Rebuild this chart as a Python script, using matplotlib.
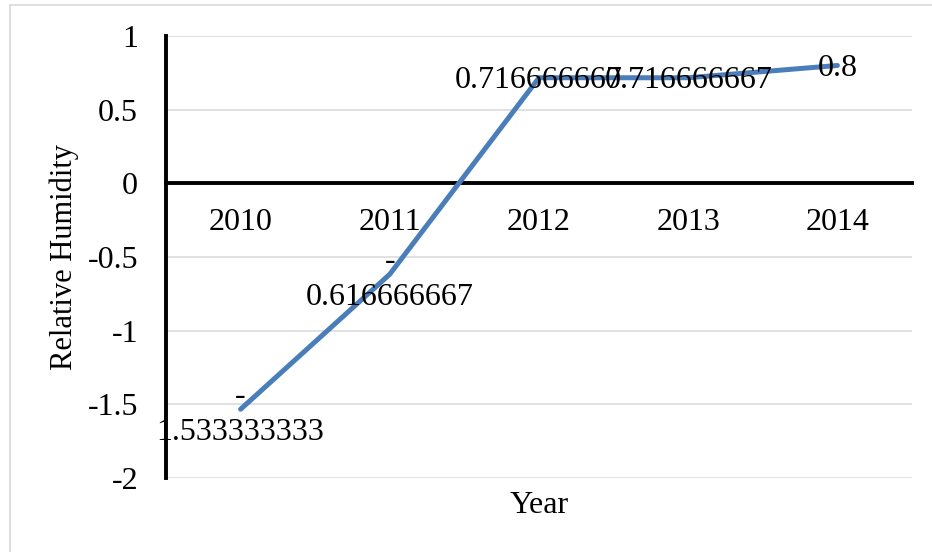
import matplotlib
matplotlib.use("Agg")
import matplotlib.pyplot as plt
from matplotlib.patches import Rectangle

years = ["2010", "2011", "2012", "2013", "2014"]
humidity = [-1.533333333, -0.616666667, 0.716666667, 0.716666667, 0.8]
point_labels = ["-\n1.533333333", "-\n0.616666667", "0.716666667", "0.716666667", "0.8"]
yticks = [-2, -1.5, -1, -0.5, 0, 0.5, 1]

plt.rcParams["font.family"] = ["Liberation Serif", "DejaVu Serif"]
fs = 23

fig = plt.figure(figsize=(9.32, 5.52), dpi=100)
# chart area frame
fig.patches.append(Rectangle((10 / 932, -0.1), 1.2, 1 - 5 / 552 + 0.1,
                             transform=fig.transFigure, fill=False,
                             edgecolor="#d9d9d9", lw=1.2))

ax = fig.add_axes([166 / 932, 1 - 478 / 552, 746 / 932, 442 / 552])
x = list(range(len(years)))
ax.plot(x, humidity, color="#4a7ebb", lw=3.6, solid_capstyle="round", zorder=3)

for xi, yi, lab in zip(x, humidity, point_labels):
    dy = -4 if yi < 0 else -2
    ax.annotate(lab, (xi, yi), xytext=(0, dy), textcoords="offset points",
                ha="center", va="center", multialignment="center",
                fontsize=fs, linespacing=1.3, zorder=4)

ax.set_xlim(-0.5, 4.5)
ax.set_ylim(-2, 1)
ax.set_yticks(yticks)
ax.set_yticklabels([f"{v:g}" for v in yticks])
ax.set_xticks(x)
ax.set_xticklabels(years)
ax.yaxis.grid(True, color="#d9d9d9", lw=1.1)
ax.set_axisbelow(True)

ax.spines["top"].set_visible(False)
ax.spines["right"].set_visible(False)
ax.spines["bottom"].set_position(("data", 0))
ax.spines["bottom"].set_linewidth(2.8)
ax.spines["left"].set_linewidth(2.8)
ax.spines["bottom"].set_zorder(2)
ax.tick_params(axis="both", length=0, labelsize=fs)
ax.tick_params(axis="y", pad=20)
ax.tick_params(axis="x", pad=18)

ax.set_ylabel("Relative Humidity", fontsize=fs - 1)
ax.yaxis.set_label_coords(-0.117, 0.5)
ax.text(0.5, -0.062, "Year", transform=ax.transAxes, ha="center", va="center",
        fontsize=fs)

fig.savefig("out.png", dpi=100)
